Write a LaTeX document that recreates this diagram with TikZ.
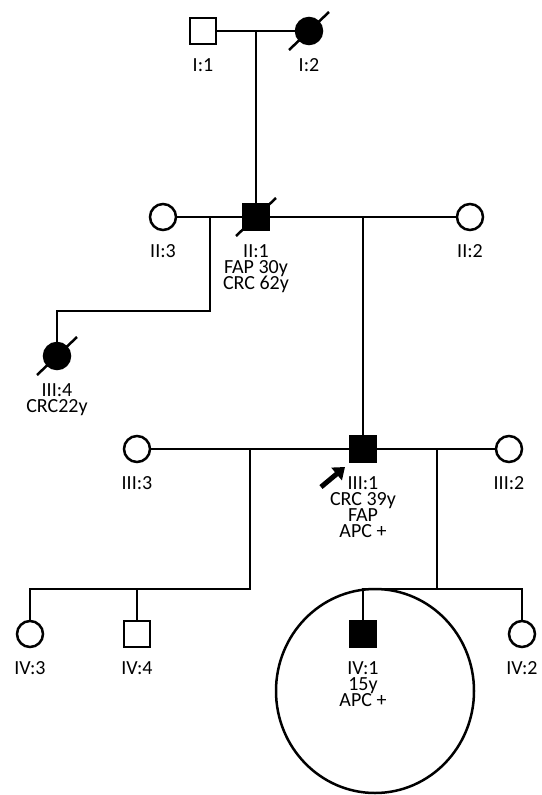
\documentclass[tikz,border=0pt]{standalone}
\usepackage{fontspec}
\setmainfont{Carlito}
\usetikzlibrary{calc,arrows.meta}

\begin{document}
\begin{tikzpicture}[x=1pt,y=-1pt,line width=2.5pt,
  male/.style={draw,rectangle,minimum size=26pt,inner sep=0pt,fill=white},
  female/.style={draw,circle,minimum size=26pt,inner sep=0pt,fill=white},
  aff/.style={fill=black},
  lbl/.style={anchor=north,align=center,inner sep=0pt,font={\fontsize{20}{16}\selectfont\lineskiplimit=-20pt}},
  proband/.style={line width=5pt,-{Triangle[length=11pt,width=16pt]}}]
\useasboundingbox (0,0) rectangle (541,795);

% generation I
\node[male] (I1) at (203,31){};
\node[female,aff] (I2) at (309,31){};
\node[lbl] (lI1) at (203,57){I:1};
\node[lbl] (lI2) at (309,57){I:2};
\coordinate (m1) at (256,31);

% generation II
\node[female] (II3) at (163,217){};
\node[male,aff] (II1) at (256,217){};
\node[female] (II2) at (470,217){};
\node[lbl] (lII3) at (163,243){II:3};
\node[lbl] (lII1) at (256,243){II:1\\FAP 30y\\CRC 62y};
\node[lbl] (lII2) at (470,243){II:2};
\coordinate (m2) at (210,217);
\coordinate (m3) at (363,217);

% generation III
\node[female,aff] (III4) at (57,356){};
\node[lbl] (lIII4) at (57,382){III:4\\CRC22y};
\node[female] (III3) at (137,449){};
\node[male,aff] (III1) at (363,449){};
\node[female] (III2) at (509,449){};
\node[lbl] (lIII3) at (137,475){III:3};
\node[lbl] (lIII1) at (363,475){III:1\\CRC 39y\\FAP\\APC +};
\node[lbl] (lIII2) at (509,475){III:2};
\coordinate (m4) at (250,449);
\coordinate (m5) at (437,449);
\coordinate (s1) at (250,589);
\coordinate (s2) at (437,589);

% generation IV
\node[female] (IV3) at (30,634){};
\node[male] (IV4) at (137,634){};
\node[male,aff] (IV1) at (363,634){};
\node[female] (IV2) at (522,634){};
\node[lbl] (lIV3) at (30,660){IV:3};
\node[lbl] (lIV4) at (137,660){IV:4};
\node[lbl] (lIV1) at (363,660){IV:1\\15y\\APC +};
\node[lbl] (lIV2) at (522,660){IV:2};

% lines of descent
\draw (I1) -- (I2);
\draw (m1) -- (II1);
\draw (II3) -- (II1) -- (II2);
\draw (m2) -- ++(0,94) -| (III4);
\draw (m3) -- (III1);
\draw (III3) -- (III1) -- (III2);
\draw (m4) -- (s1) -| (IV3);
\draw (IV4) -- (IV4 |- s1);
\draw (m5) -- (s2);
\draw (IV1) |- (s2) -| (IV2);

% deceased
\foreach \p in {I2,II1,III4}
  \draw ($(\p)+(-20,19)$) -- ($(\p)+(20,-19)$);

% proband
\coordinate (pt) at (321,487);
\coordinate (ph) at (345,467);
\draw[proband] (pt) -- (ph);

\draw (375,691) ellipse [x radius=99pt,y radius=102pt];

\end{tikzpicture}
\end{document}
